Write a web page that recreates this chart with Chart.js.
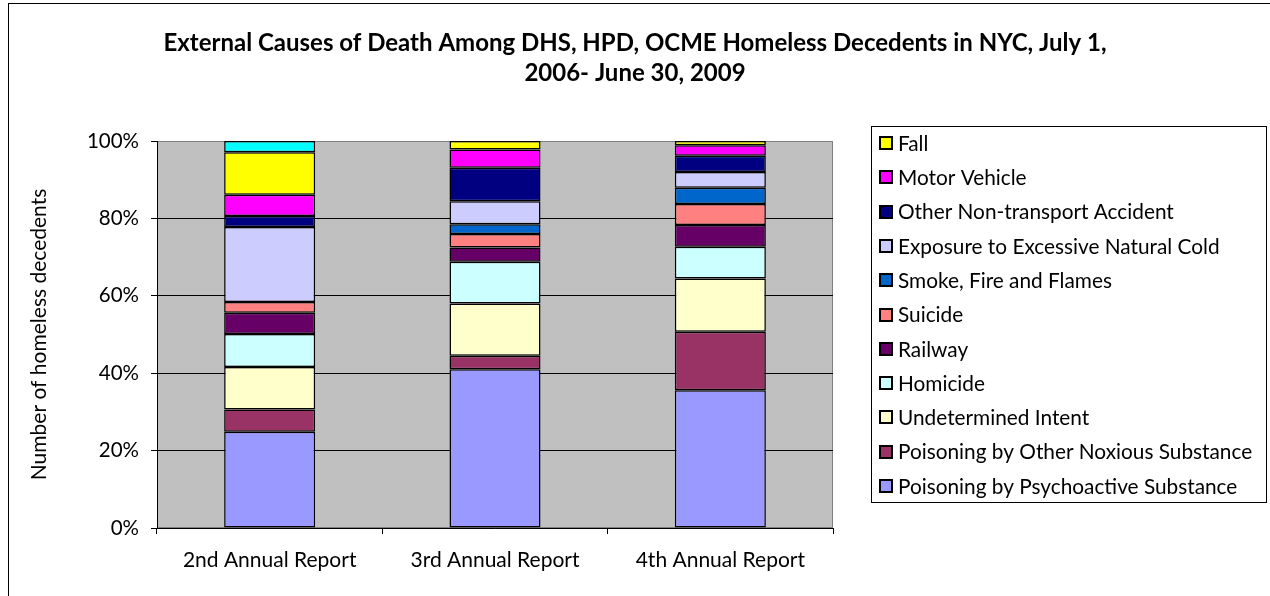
<!DOCTYPE html>
<html>
<head>
<meta charset="utf-8">
<title>External Causes of Death Among Homeless Decedents</title>
<script src="https://cdn.jsdelivr.net/npm/chart.js@4.4.1/dist/chart.umd.min.js"></script>
<style>
    body { margin: 0; background: #fff; overflow: hidden; }
    #wrap { position: relative; width: 1270px; height: 596px; }
    #frame {
        position: absolute; left: 8px; top: 3px; width: 1400px; height: 800px;
        border-left: 1px solid #000; border-top: 1px solid #000;
    }
    #chart { position: absolute; left: 0; top: 0; }
</style>
</head>
<body>
<div id="wrap">
    <div id="frame"></div>
    <canvas id="chart" width="1270" height="596"></canvas>
</div>
<script>
// Categories
const reports = ['2nd Annual Report', '3rd Annual Report', '4th Annual Report'];

// Share of decedents (%) per cause (bottom of stack first)
const psychoactive = [24.9, 41.0, 35.6];
const otherNoxious = [5.7, 3.5, 15.1];
const undetermined = [11.0, 13.5, 13.8];
const homicide = [8.5, 10.8, 8.2];
const railway = [5.5, 3.7, 5.6];
const suicide = [2.8, 3.5, 5.4];
const smokeFire = [null, 2.5, 4.2];
const cold = [19.4, 5.9, 4.1];
const nonTransport = [2.8, 8.7, 4.2];
const motorVehicle = [5.5, 4.7, 2.7];
const fall = [11.0, 2.2, 1.1];
const unlabelled = [2.9, null, null];   // cyan segment with no legend entry

const yTicks = [0, 20, 40, 60, 80, 100];

const FONT = 'Lato, "Open Sans", sans-serif';

function series(label, data, color, hidden) {
    return {
        label: label,
        data: data,
        backgroundColor: color,
        borderColor: '#000',
        borderWidth: 1.5,
        borderSkipped: false,
        hideInLegend: !!hidden
    };
}

// Grey plot area with a thin grey frame
const plotBackground = {
    id: 'plotBackground',
    beforeDraw(chart) {
        const { ctx, chartArea: a } = chart;
        ctx.save();
        ctx.fillStyle = '#c0c0c0';
        ctx.fillRect(a.left, a.top, a.width, a.height);
        ctx.strokeStyle = '#808080';
        ctx.lineWidth = 1;
        ctx.strokeRect(a.left + 0.5, a.top + 0.5, a.width - 1, a.height - 1);
        ctx.restore();
    }
};

// Boxed legend on the right, top series first (like the stack)
const sideLegend = {
    id: 'sideLegend',
    afterDraw(chart) {
        const ctx = chart.ctx;
        const items = chart.data.datasets.filter(d => !d.hideInLegend).reverse();
        const left = Math.round(chart.chartArea.right) + 38;
        const right = 1266;
        const top = 126;
        const firstY = 143;
        const step = 34.3;
        const bottom = Math.round(firstY + (items.length - 1) * step + 16);

        ctx.save();
        ctx.strokeStyle = '#000';
        ctx.lineWidth = 1;
        ctx.strokeRect(left + 0.5, top + 0.5, right - left, bottom - top);

        ctx.font = '20.8px ' + FONT;
        ctx.textBaseline = 'middle';
        ctx.textAlign = 'left';
        items.forEach((d, i) => {
            const y = firstY + i * step;
            const by = Math.round(y - 7);
            ctx.fillStyle = d.backgroundColor;
            ctx.fillRect(left + 8, by, 14, 14);
            ctx.lineWidth = 2;
            ctx.strokeStyle = '#000';
            ctx.strokeRect(left + 9, by + 1, 12, 12);
            ctx.fillStyle = '#000';
            ctx.fillText(d.label, left + 27, y + 1);
        });
        ctx.restore();
    }
};

new Chart(document.getElementById('chart'), {
    type: 'bar',
    data: {
        labels: reports,
        datasets: [
            series('Poisoning by Psychoactive Substance', psychoactive, '#9999ff'),
            series('Poisoning by Other Noxious Substance', otherNoxious, '#993366'),
            series('Undetermined Intent', undetermined, '#ffffcc'),
            series('Homicide', homicide, '#ccffff'),
            series('Railway', railway, '#660066'),
            series('Suicide', suicide, '#ff8080'),
            series('Smoke, Fire and Flames', smokeFire, '#0066cc'),
            series('Exposure to Excessive Natural Cold', cold, '#ccccff'),
            series('Other Non-transport Accident', nonTransport, '#000080'),
            series('Motor Vehicle', motorVehicle, '#ff00ff'),
            series('Fall', fall, '#ffff00'),
            series('Other', unlabelled, '#00ffff', true)
        ]
    },
    options: {
        responsive: false,
        animation: false,
        layout: { padding: 0 },
        datasets: {
            bar: { barPercentage: 0.404, categoryPercentage: 1 }
        },
        plugins: {
            tooltip: { enabled: false },
            legend: { display: false },
            title: {
                display: true,
                text: ['External Causes of Death Among DHS, HPD, OCME Homeless Decedents in NYC, July 1,',
                       '2006- June 30, 2009'],
                color: '#000',
                font: { family: FONT, size: 24, weight: 'bold', lineHeight: 1.25 },
                padding: { top: 28, bottom: 53 }
            }
        },
        scales: {
            x: {
                stacked: true,
                grid: { drawOnChartArea: false, color: '#000', tickLength: 6 },
                border: { color: '#000', width: 1 },
                ticks: { color: '#000', font: { family: FONT, size: 21 }, padding: 14 },
                afterFit(scale) { scale.height = 68; }
            },
            y: {
                stacked: true,
                min: 0,
                max: 100,
                afterBuildTicks(scale) { scale.ticks = yTicks.map(v => ({ value: v })); },
                grid: {
                    color: ctx => (ctx.tick && ctx.tick.value === 100) ? '#808080' : '#000',
                    tickColor: '#000',
                    tickLength: 6
                },
                border: { color: '#000', width: 1 },
                ticks: {
                    color: '#000',
                    font: { family: FONT, size: 20.5 },
                    padding: 12,
                    callback: v => v + '%'
                },
                title: {
                    display: true,
                    text: 'Number of homeless decedents',
                    color: '#000',
                    font: { family: FONT, size: 21 },
                    padding: { top: 27, bottom: 0 }
                },
                afterFit(scale) { scale.width = 157; }
            },
            // empty axis on the right: leaves room for the legend box
            legendRoom: {
                position: 'right',
                display: true,
                grid: { display: false, drawTicks: false },
                border: { display: false },
                ticks: { display: false },
                afterFit(scale) { scale.width = 437; }
            }
        }
    },
    plugins: [plotBackground, sideLegend]
});
</script>
</body>
</html>
